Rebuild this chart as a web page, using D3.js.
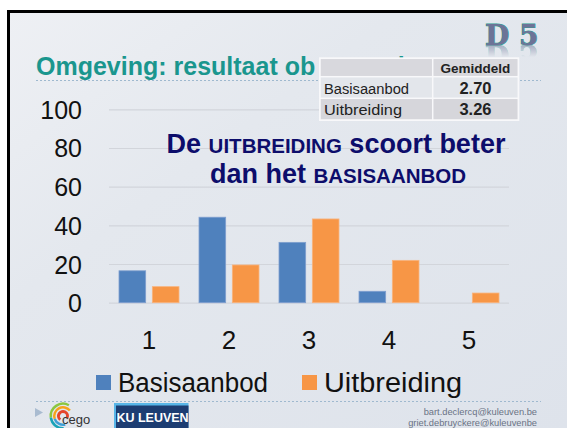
<!DOCTYPE html>
<html><head><meta charset="utf-8">
<script src="https://cdn.jsdelivr.net/npm/d3@7"></script>
<style>html,body{margin:0;padding:0;background:#fff;}svg{display:block;}</style>
</head><body>
<script>
// ---- data ----
const categories = ["1", "2", "3", "4", "5"];
const seriesNames = ["Basisaanbod", "Uitbreiding"];
const basisaanbod = [16.5, 44.2, 31.2, 5.9, 0];
const uitbreiding = [8.3, 19.5, 43.3, 21.9, 5.0];
const yTicks = [0, 20, 40, 60, 80, 100];
const tableHeader = ["", "Gemiddeld"];
const tableNames = ["Basisaanbod", "Uitbreiding"];
const tableMeans = ["2.70", "3.26"];
const seriesColors = ["#4f81bd", "#f79646"];

const W = 567, H = 428;
const svg = d3.select("body").append("svg").attr("width", W).attr("height", H);
const defs = svg.append("defs");

// background gradient
const bg = defs.append("linearGradient").attr("id", "bg").attr("x1", 0).attr("y1", 0).attr("x2", 1).attr("y2", 1);
bg.append("stop").attr("offset", "0%").attr("stop-color", "#eef0f4");
bg.append("stop").attr("offset", "35%").attr("stop-color", "#e4e8ee");
bg.append("stop").attr("offset", "100%").attr("stop-color", "#dee3eb");

svg.append("rect").attr("width", W).attr("height", H).attr("fill", "#ffffff");
svg.append("rect").attr("x", 8).attr("y", 11).attr("width", W - 8).attr("height", H - 11).attr("fill", "url(#bg)");
// frame border
svg.append("line").attr("x1", 8.5).attr("x2", 8.5).attr("y1", 10).attr("y2", H).attr("stroke", "#000").attr("stroke-width", 3);
svg.append("line").attr("x1", 7).attr("x2", W).attr("y1", 11.5).attr("y2", 11.5).attr("stroke", "#000").attr("stroke-width", 3);

const FONT = "'Liberation Sans', Arial, sans-serif";
const NARROW = "'Liberation Sans Narrow', 'Liberation Sans', Arial, sans-serif";

// title (continuation hidden behind the table)
const title = svg.append("text").attr("x", 36).attr("y", 75)
  .attr("font-family", FONT).attr("font-weight", "bold").attr("font-size", 25)
  .attr("fill", "#1a968e");
title.append("tspan").text("Omgeving: resultaat ob");
title.append("tspan").attr("x", 324).text("servaties");

// dashed lines
svg.append("line").attr("x1", 36).attr("x2", 541).attr("y1", 80.5).attr("y2", 80.5)
  .attr("stroke", "#9fb9cf").attr("stroke-width", 1).attr("stroke-dasharray", "2,2");
svg.append("line").attr("x1", 36).attr("x2", 541).attr("y1", 401.5).attr("y2", 401.5)
  .attr("stroke", "#9fb9cf").attr("stroke-width", 1).attr("stroke-dasharray", "2,2");

// D 5 logo with reflection
const refl = defs.append("linearGradient").attr("id", "reflGrad").attr("x1", 0).attr("y1", 0).attr("x2", 0).attr("y2", 1);
refl.append("stop").attr("offset", "0%").attr("stop-color", "#fff").attr("stop-opacity", 0.5);
refl.append("stop").attr("offset", "100%").attr("stop-color", "#fff").attr("stop-opacity", 0);
defs.append("mask").attr("id", "reflMask").attr("maskUnits", "userSpaceOnUse")
  .append("rect").attr("x", 470).attr("y", 45).attr("width", 90).attr("height", 12).attr("fill", "url(#reflGrad)");
const dBase = 45;
svg.append("text").attr("id", "d5").attr("x", 485).attr("y", dBase)
  .attr("font-family", "'DejaVu Serif', serif").attr("font-weight", "bold").attr("font-size", 28)
  .attr("fill", "#6d7397").attr("stroke", "#2e9e90").attr("stroke-width", 1).attr("paint-order", "stroke")
  .text("D 5");
svg.append("g").attr("mask", "url(#reflMask)").append("use")
  .attr("href", "#d5")
  .attr("transform", `translate(0,${2 * dBase}) scale(1,-1)`);

// ---- chart ----
const y = d3.scaleLinear().domain([0, 100]).range([302.7, 109.3]);
const x0 = d3.scaleBand().domain(categories).range([109, 509]).padding(0);
const x1 = d3.scaleBand().domain(seriesNames).range([10, 70]).paddingInner(0.2).paddingOuter(0);

const yAxis = svg.append("g").attr("transform", "translate(109,0)")
  .call(d3.axisLeft(y).tickValues(yTicks).tickSize(-400).tickPadding(27).tickFormat(d3.format("d")));
yAxis.select(".domain").remove();
yAxis.selectAll("line").attr("stroke", "#d2d5db").attr("stroke-width", 1.2);
yAxis.selectAll("text").attr("font-family", FONT).attr("font-size", 25).attr("fill", "#111").attr("dy", "0.36em");

const rows = categories.map((c, i) => ({ cat: c, values: [basisaanbod[i], uitbreiding[i]] }));
const groups = svg.append("g").selectAll("g").data(rows).join("g")
  .attr("transform", d => `translate(${x0(d.cat)},0)`);
groups.selectAll("rect").data(d => d.values.map((v, k) => ({ key: seriesNames[k], v, k })))
  .join("rect")
  .attr("x", d => x1(d.key))
  .attr("width", x1.bandwidth())
  .attr("y", d => y(d.v))
  .attr("height", d => y(0) - y(d.v))
  .attr("fill", d => seriesColors[d.k])
  .attr("stroke", d => d.k === 0 ? "#7f9fcf" : "#f9b47e")
  .attr("stroke-width", 0.8);

const xAxis = svg.append("g").attr("transform", `translate(0,${y(0)})`)
  .call(d3.axisBottom(x0).tickSize(0).tickPadding(0));
xAxis.select(".domain").remove();
xAxis.selectAll("text").attr("font-family", FONT).attr("font-size", 26).attr("fill", "#111")
  .attr("y", 46).attr("dy", 0);

// subtitle
const sub = svg.append("text").attr("x", 337).attr("text-anchor", "middle")
  .attr("font-family", FONT).attr("font-weight", "bold").attr("fill", "#0d0d6b");
const l1 = sub.append("tspan").attr("x", 336).attr("y", 153);
l1.append("tspan").attr("font-size", 27).text("De ");
l1.append("tspan").attr("font-size", 20.5).text("UITBREIDING");
l1.append("tspan").attr("font-size", 27).text(" scoort beter");
const l2 = svg.append("text").attr("x", 338).attr("y", 183).attr("text-anchor", "middle")
  .attr("font-family", FONT).attr("font-weight", "bold").attr("fill", "#0d0d6b");
l2.append("tspan").attr("font-size", 27).text("dan het ");
l2.append("tspan").attr("font-size", 20.5).text("BASISAANBOD");

// legend
const legend = svg.append("g");
const legX = [96, 302];
const legLen = [150, 138];
seriesNames.forEach((n, i) => {
  legend.append("rect").attr("x", legX[i]).attr("y", 375).attr("width", 15).attr("height", 15).attr("fill", seriesColors[i]);
  legend.append("text").attr("x", legX[i] + 22).attr("y", 391.5)
    .attr("font-family", FONT).attr("font-size", 27).attr("fill", "#111")
    .attr("textLength", legLen[i]).attr("lengthAdjust", "spacingAndGlyphs").text(n);
});

// ---- table ----
const tX = [320, 432.7, 518.3];
const tY = [58.3, 76.7, 98.3, 120];
const rowFills = ["#d8d8dd", "#e3e6eb", "#d6d6db"];
const tg = svg.append("g");
tg.append("rect").attr("x", tX[0] - 1).attr("y", tY[0] - 1).attr("width", tX[2] - tX[0] + 2).attr("height", tY[3] - tY[0] + 2).attr("fill", "#f8f8fa");
for (let r = 0; r < 3; r++) {
  for (let c = 0; c < 2; c++) {
    tg.append("rect").attr("x", tX[c] + 0.75).attr("y", tY[r] + 0.75)
      .attr("width", tX[c + 1] - tX[c] - 1.5).attr("height", tY[r + 1] - tY[r] - 1.5)
      .attr("fill", rowFills[r]);
  }
}
tg.append("text").attr("x", (tX[1] + tX[2]) / 2).attr("y", 73).attr("text-anchor", "middle")
  .attr("font-family", FONT).attr("font-weight", "bold").attr("font-size", 13.5).attr("fill", "#222").text(tableHeader[1]);
const tLen = [85, 78];
tableNames.forEach((n, i) => {
  const by = [94, 115][i];
  tg.append("text").attr("x", 324).attr("y", by).attr("font-family", FONT).attr("font-size", 15.5)
    .attr("fill", "#222").attr("textLength", tLen[i]).attr("lengthAdjust", "spacingAndGlyphs").text(n);
  tg.append("text").attr("x", (tX[1] + tX[2]) / 2).attr("y", by).attr("text-anchor", "middle")
    .attr("font-family", FONT).attr("font-weight", "bold").attr("font-size", 16.5).attr("fill", "#222").text(tableMeans[i]);
});

// ---- footer ----
svg.append("path").attr("d", "M35,408 L43,412.5 L35,417 Z").attr("fill", "#a9bbd0");
const logo = svg.append("g").attr("transform", "translate(63,416)");
const arc = d3.arc();
[
  { ri: 11, ro: 13.5, a0: -1.7, a1: 0.5, c: "#8cc63f" },
  { ri: 11, ro: 13.5, a0: -3.2, a1: -1.7, c: "#1aa3b8" },
  { ri: 7.5, ro: 10, a0: -1.9, a1: 0.9, c: "#f7a21b" },
  { ri: 7.5, ro: 10, a0: -3.4, a1: -1.9, c: "#3f9fd6" },
  { ri: 3, ro: 6, a0: -2.5, a1: 2.0, c: "#e5462b" }
].forEach(a => logo.append("path")
  .attr("d", arc({ innerRadius: a.ri, outerRadius: a.ro, startAngle: a.a0, endAngle: a.a1 }))
  .attr("fill", a.c));
svg.append("text").attr("x", 62).attr("y", 424).attr("font-family", FONT).attr("font-size", 13)
  .attr("fill", "#333").text("cego");

svg.append("rect").attr("x", 114).attr("y", 403).attr("width", 74.5).attr("height", 26).attr("fill", "#58b6e8");
svg.append("rect").attr("x", 116).attr("y", 405.5).attr("width", 72.5).attr("height", 24).attr("fill", "#1d3d72");
svg.append("text").attr("x", 152.5).attr("y", 421.5).attr("text-anchor", "middle")
  .attr("font-family", NARROW)
  .attr("font-weight", "bold").attr("font-size", 12.5).attr("fill", "#fff").text("KU LEUVEN");

svg.append("text").attr("x", 537).attr("y", 415).attr("text-anchor", "end")
  .attr("font-family", NARROW).attr("font-size", 9.3).attr("fill", "#6a7385").text("bart.declercq@kuleuven.be");
svg.append("text").attr("x", 537).attr("y", 425.5).attr("text-anchor", "end")
  .attr("font-family", NARROW).attr("font-size", 9.3).attr("fill", "#6a7385").text("griet.debruyckere@kuleuvenbe");
</script>
</body></html>
